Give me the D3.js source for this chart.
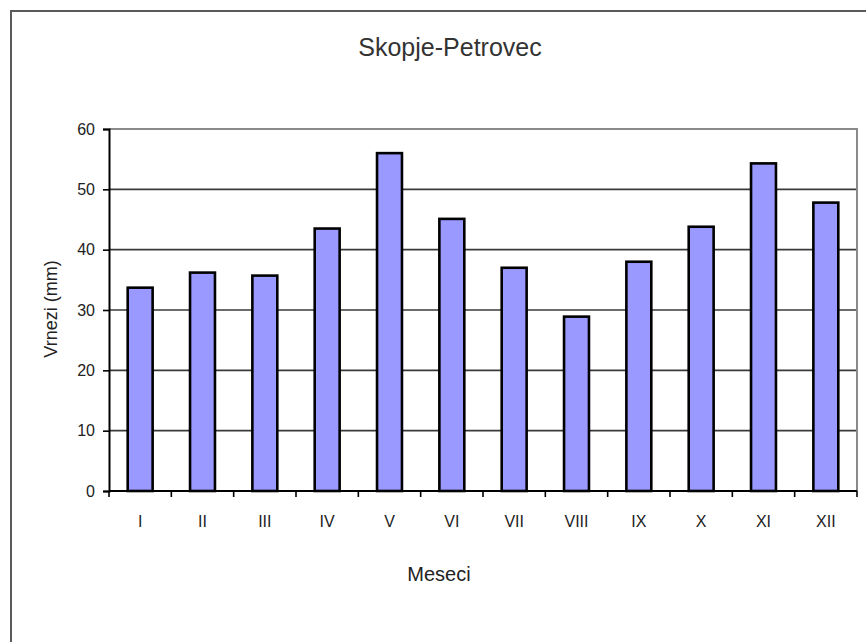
<!DOCTYPE html>
<html>
<head>
<meta charset="utf-8">
<script src="https://cdn.jsdelivr.net/npm/d3@7"></script>
<style>
  html, body { margin: 0; padding: 0; background: #fff; }
  svg { display: block; }
  text { font-family: "Liberation Sans", Arial, Helvetica, sans-serif; }
</style>
</head>
<body>
<svg id="chart" width="866" height="642"></svg>
<script>
// Monthly precipitation, Skopje-Petrovec
const months = ["I", "II", "III", "IV", "V", "VI", "VII", "VIII", "IX", "X", "XI", "XII"];
const precipitation = [33.7, 36.2, 35.7, 43.5, 56.0, 45.1, 37.0, 28.9, 38.0, 43.8, 54.3, 47.8];
const yTicks = [0, 10, 20, 30, 40, 50, 60];

const titleText = "Skopje-Petrovec";
const xTitle = "Meseci";
const yTitle = "Vrnezi (mm)";

const svg = d3.select("#chart");

// chart frame
svg.append("rect")
  .attr("x", 11).attr("y", 11)
  .attr("width", 870).attr("height", 650)
  .attr("fill", "#fff")
  .attr("stroke", "#5a5a5a")
  .attr("stroke-width", 2);

const plot = { left: 109, right: 857, top: 129, bottom: 491 };

const x = d3.scaleBand()
  .domain(months)
  .range([plot.left, plot.right])
  .paddingInner(0.6)
  .paddingOuter(0.3);

const y = d3.scaleLinear()
  .domain([0, 60])
  .range([plot.bottom, plot.top]);

// horizontal gridlines
svg.append("g")
  .selectAll("line")
  .data(yTicks.filter(d => d > 0 && d < 60))
  .join("line")
  .attr("x1", plot.left).attr("x2", plot.right)
  .attr("y1", d => y(d)).attr("y2", d => y(d))
  .attr("stroke", "#3a3a3a")
  .attr("stroke-width", 1.6);

// plot area border (top and right)
svg.append("path")
  .attr("d", `M${plot.left},${y(60)}H${plot.right}V${plot.bottom}`)
  .attr("fill", "none")
  .attr("stroke", "#8a8a8a")
  .attr("stroke-width", 2);

// bars
svg.append("g")
  .selectAll("rect")
  .data(months.map((m, i) => ({ m, v: precipitation[i] })))
  .join("rect")
  .attr("x", d => x(d.m))
  .attr("y", d => y(d.v))
  .attr("width", x.bandwidth())
  .attr("height", d => y(0) - y(d.v))
  .attr("fill", "#9999ff")
  .attr("stroke", "#000")
  .attr("stroke-width", 2.6);

// y axis
const yAxis = d3.axisLeft(y)
  .tickValues(yTicks)
  .tickSize(6)
  .tickPadding(8)
  .tickFormat(d3.format("d"));

const gy = svg.append("g")
  .attr("transform", `translate(${plot.left},0)`)
  .call(yAxis);
gy.select(".domain").attr("stroke", "#000").attr("stroke-width", 2);
gy.selectAll(".tick line").attr("stroke", "#000").attr("stroke-width", 1.6);
gy.selectAll(".tick text")
  .attr("font-size", 16)
  .attr("fill", "#222")
  .attr("font-family", "'Liberation Sans', Arial, sans-serif");

// x axis: labels centred on bars, tick marks between categories
const step = x.step();
const boundaries = d3.range(months.length + 1).map(i => plot.left + i * (plot.right - plot.left) / months.length);

svg.append("line")
  .attr("x1", plot.left).attr("x2", plot.right)
  .attr("y1", plot.bottom).attr("y2", plot.bottom)
  .attr("stroke", "#000").attr("stroke-width", 2);

svg.append("g")
  .selectAll("line")
  .data(boundaries)
  .join("line")
  .attr("x1", d => d).attr("x2", d => d)
  .attr("y1", plot.bottom).attr("y2", plot.bottom + 6)
  .attr("stroke", "#000")
  .attr("stroke-width", 1.6);

svg.append("g")
  .selectAll("text")
  .data(months)
  .join("text")
  .attr("x", d => x(d) + x.bandwidth() / 2)
  .attr("y", 527)
  .attr("text-anchor", "middle")
  .attr("font-size", 16)
  .attr("fill", "#222")
  .text(d => d);

// titles
svg.append("text")
  .attr("x", 450).attr("y", 56)
  .attr("text-anchor", "middle")
  .attr("font-size", 25)
  .attr("fill", "#333")
  .text(titleText);

svg.append("text")
  .attr("x", 439).attr("y", 581)
  .attr("text-anchor", "middle")
  .attr("font-size", 20)
  .attr("fill", "#222")
  .text(xTitle);

svg.append("text")
  .attr("transform", `translate(57,${309}) rotate(-90)`)
  .attr("text-anchor", "middle")
  .attr("font-size", 18)
  .attr("fill", "#222")
  .text(yTitle);
</script>
</body>
</html>
